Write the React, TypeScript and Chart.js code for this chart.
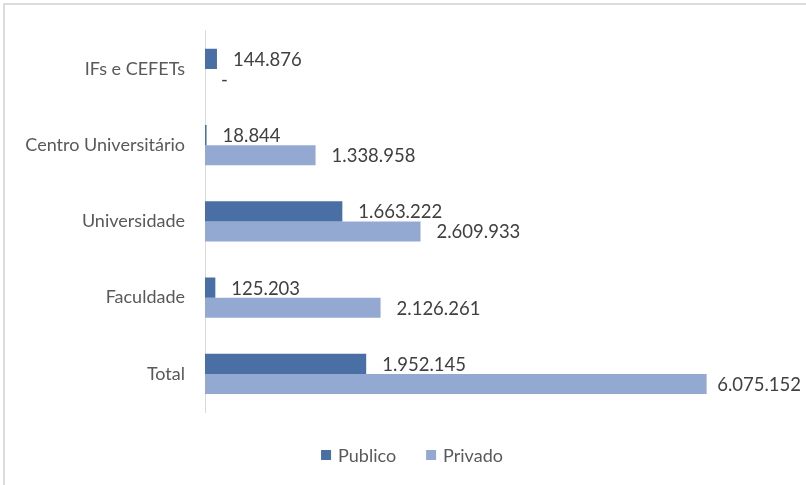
import React, { useEffect, useRef } from "react";
import { Chart, registerables } from "chart.js";

Chart.register(...registerables);

const categories = ["IFs e CEFETs", "Centro Universitário", "Universidade", "Faculdade", "Total"];
const publico = [144876, 18844, 1663222, 125203, 1952145];
const privado = [0, 1338958, 2609933, 2126261, 6075152];
const seriesNames = ["Publico", "Privado"];

const FONT = "Lato, 'Liberation Sans', sans-serif";
const TEXT = "#595959";
const COLORS = ["#4a6fa5", "#94a9d2"];

function fmt(v: number): string {
  if (!v) return "-";
  return String(Math.round(v)).replace(/\B(?=(\d{3})+(?!\d))/g, ".");
}

const labelPlugin = {
  id: "valueLabels",
  afterDatasetsDraw(chart: any) {
    const ctx = chart.ctx;
    ctx.save();
    ctx.font = `18.5px ${FONT}`;
    ctx.fillStyle = "#404040";
    ctx.textBaseline = "middle";
    ctx.textAlign = "left";
    chart.data.datasets.forEach((ds: any, i: number) => {
      const meta = chart.getDatasetMeta(i);
      meta.data.forEach((el: any, j: number) => {
        const t = fmt(ds.data[j]);
        const w = ctx.measureText(t).width;
        let x = el.x + 16;
        if (x + w > chart.width - 5) x = chart.width - 5 - w;
        ctx.fillText(t, x, el.y + 1);
      });
    });
    ctx.restore();
  },
};

const legendPlugin = {
  id: "bottomLegend",
  afterDraw(chart: any) {
    const ctx = chart.ctx;
    ctx.save();
    ctx.font = `18px ${FONT}`;
    ctx.textBaseline = "middle";
    ctx.textAlign = "left";
    const box = 10, gapText = 7, gapItem = 30;
    const items = chart.data.datasets.map((ds: any) => ({
      label: ds.label,
      color: ds.backgroundColor,
      w: ctx.measureText(ds.label).width,
    }));
    const total = items.reduce((s: number, it: any) => s + box + gapText + it.w, 0) + gapItem * (items.length - 1);
    let x = 412 - total / 2;
    const cy = 455;
    items.forEach((it: any) => {
      ctx.fillStyle = it.color;
      ctx.fillRect(x, cy - box / 2, box, box);
      x += box + gapText;
      ctx.fillStyle = TEXT;
      ctx.fillText(it.label, x, cy + 1);
      x += it.w + gapItem;
    });
    ctx.restore();
  },
};

export default function App() {
  const ref = useRef<HTMLCanvasElement>(null);
  useEffect(() => {
    document.body.style.margin = "0";
    const chart = new Chart(ref.current!, {
      type: "bar",
      data: {
        labels: categories,
        datasets: [
          { label: seriesNames[0], data: publico, backgroundColor: COLORS[0] },
          { label: seriesNames[1], data: privado, backgroundColor: COLORS[1] },
        ],
      },
      options: {
        indexAxis: "y",
        animation: false,
        responsive: false,
        maintainAspectRatio: false,
        layout: { padding: { top: 30, right: 23, bottom: 73, left: 0 } },
        datasets: { bar: { categoryPercentage: 0.53, barPercentage: 1 } },
        scales: {
          x: {
            min: 0,
            max: 7000000,
            display: false,
          },
          y: {
            grid: { display: false, drawTicks: false },
            border: { display: true, color: "#d9d9d9", width: 1 },
            ticks: { color: TEXT, font: { family: FONT, size: 18 }, padding: 20 },
            afterFit: (s: any) => { s.width = 205; },
          },
        },
        plugins: {
          legend: { display: false },
          tooltip: { enabled: false },
        },
      },
      plugins: [labelPlugin, legendPlugin],
    });
    return () => chart.destroy();
  }, []);
  return (
    <div style={{ position: "relative", width: 806, height: 485, background: "#fff" }}>
      <div style={{ position: "absolute", left: 3, top: 3, width: 900, height: 600, border: "2px solid #dcdcdc", boxSizing: "border-box" }} />
      <canvas ref={ref} width={806} height={485} style={{ position: "absolute", left: 0, top: 0 }} />
    </div>
  );
}
